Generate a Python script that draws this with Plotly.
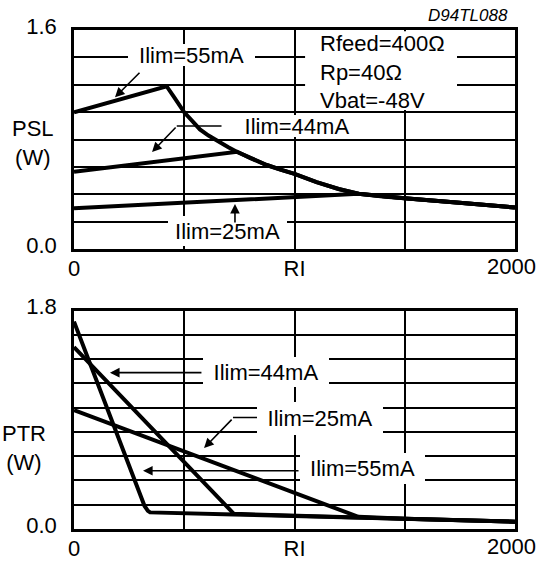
import plotly.graph_objects as go

# ---------------- data ----------------
# Top chart: PSL (W) vs RI
psl_55_rl = [0, 420, 450, 480, 500, 540, 571, 610, 650, 700, 740, 800, 874, 940, 1000, 1100, 1200, 1290, 1400, 1500, 1750, 2000]
psl_55_w = [1.00, 1.19, 1.12, 1.05, 1.00, 0.93, 0.875, 0.83, 0.79, 0.745, 0.71, 0.665, 0.615, 0.58, 0.55, 0.49, 0.44, 0.405, 0.385, 0.372, 0.34, 0.305]
psl_44_rl = [0, 740, 800, 874, 940, 1000, 1100, 1200, 1290, 1400, 1500, 1750, 2000]
psl_44_w = [0.566, 0.712, 0.665, 0.615, 0.58, 0.55, 0.49, 0.44, 0.405, 0.385, 0.372, 0.34, 0.305]
psl_25_rl = [0, 1290, 1400, 1500, 1750, 2000]
psl_25_w = [0.299, 0.405, 0.385, 0.372, 0.34, 0.305]

# Bottom chart: PTR (W) vs RI
ptr_55_rl = [0, 320, 335, 345, 725, 1290, 1500, 2000]
ptr_55_w = [1.71, 0.19, 0.15, 0.137, 0.12, 0.094, 0.084, 0.06]
ptr_44_rl = [0, 725, 1290, 1500, 2000]
ptr_44_w = [1.50, 0.125, 0.094, 0.084, 0.06]
ptr_25_rl = [0, 1290, 1500, 2000]
ptr_25_w = [0.98, 0.10, 0.084, 0.06]

x_tickvals = [0, 1000]
x_ticktext = ["0", "RI"]
x_end_label = "2000"
top_tickvals = [0, 1.6]
top_ticktext = ["0.0", "1.6"]
bot_tickvals = [0, 1.8]
bot_ticktext = ["0.0", "1.8"]

FONT = "Liberation Sans, Arial, sans-serif"
FS = 22
LW = 4

fig = go.Figure()
for xs, ys in [(psl_55_rl, psl_55_w), (psl_44_rl, psl_44_w), (psl_25_rl, psl_25_w)]:
    fig.add_trace(go.Scatter(x=xs, y=ys, mode="lines", line=dict(color="black", width=LW),
                             xaxis="x", yaxis="y", showlegend=False, hoverinfo="skip"))
for xs, ys in [(ptr_55_rl, ptr_55_w), (ptr_44_rl, ptr_44_w), (ptr_25_rl, ptr_25_w)]:
    fig.add_trace(go.Scatter(x=xs, y=ys, mode="lines", line=dict(color="black", width=LW),
                             xaxis="x2", yaxis="y2", showlegend=False, hoverinfo="skip"))

def xax(anchor):
    return dict(anchor=anchor, domain=[0, 1], range=[0, 2000], tickvals=x_tickvals, ticktext=x_ticktext,
                showgrid=True, gridcolor="black", gridwidth=2, automargin=False,
                minor=dict(dtick=500, tick0=0, showgrid=True, gridcolor="black", gridwidth=2),
                showline=True, linecolor="black", linewidth=2.5, mirror=True, ticks="",
                zeroline=False, ticklabelstandoff=-2, tickfont=dict(family=FONT, size=FS, color="black"))

def yax(anchor, dom, rng, tv, tt):
    return dict(anchor=anchor, domain=dom, range=rng, tickvals=tv, ticktext=tt,
                showgrid=True, gridcolor="black", gridwidth=2, automargin=False,
                minor=dict(dtick=0.2, tick0=0, showgrid=True, gridcolor="black", gridwidth=2),
                showline=True, linecolor="black", linewidth=2.5, mirror=True, ticks="",
                zeroline=False, ticklabelstandoff=10, ticklabelshift=-4,
                tickfont=dict(family=FONT, size=FS, color="black"))

fig.update_layout(
    width=540, height=562, margin=dict(l=74, r=25, t=30, b=33, autoexpand=False),
    paper_bgcolor="white", plot_bgcolor="white",
    xaxis=xax("y"), yaxis=yax("x", [0.5605, 1.0], [0, 1.6], top_tickvals, top_ticktext),
    xaxis2=xax("y2"), yaxis2=yax("x2", [0, 0.4375], [0, 1.8], bot_tickvals, bot_ticktext),
)

ann = []
def label(text, x, y, w, h, xr, yr):
    ann.append(dict(text=text, x=x, y=y, xref=xr, yref=yr, showarrow=False, width=w, height=h,
                    bgcolor="white", borderpad=0, borderwidth=0, xanchor="center", yanchor="middle",
                    font=dict(family=FONT, size=FS, color="black")))

def arrow(x, y, ax, ay, xr, yr):
    ann.append(dict(text="", x=x, y=y, xref=xr, yref=yr, showarrow=True, ax=ax, ay=ay,
                    axref="pixel", ayref="pixel", arrowhead=2, arrowsize=1.2, arrowwidth=1.6,
                    arrowcolor="black", standoff=0))

def text(t, x, y, xr, yr, xanchor="center", size=FS, **kw):
    ann.append(dict(text=t, x=x, y=y, xref=xr, yref=yr, showarrow=False, xanchor=xanchor,
                    yanchor="middle", font=dict(family=FONT, size=size, color="black"), **kw))

# top chart labels
label("Ilim=55mA", 533, 1.418, 127, 22, "x", "y")
arrow(186, 1.109, 26, -26, "x", "y")
label("Ilim=44mA", 1011, 0.900, 118, 22, "x", "y")
arrow(354, 0.710, 25, -26, "x", "y")
label("Ilim=25mA", 696, 0.134, 119, 30, "x", "y")
arrow(730, 0.331, 0, 20, "x", "y")
text("Rfeed=400Ω<br>Rp=40Ω<br>Vbat=-48V", 1107, 1.290, "x", "y", xanchor="left", align="left")
text("<i>D94TL088</i>", 0.9887, 1.030, "paper", "paper", xanchor="right", size=17)
text("PSL<br>(W)", -0.093, 0.7745, "paper", "paper")
text(x_end_label, 2000, 0.5257, "x", "paper", xanchor="right", xshift=23)

# bottom chart labels
label("Ilim=44mA", 871, 1.295, 126, 30, "x2", "y2")
arrow(163, 1.289, 93, 0, "x2", "y2")
label("Ilim=25mA", 1116, 0.912, 126, 33, "x2", "y2")
arrow(590, 0.667, 29, -30, "x2", "y2")
label("Ilim=55mA", 1308, 0.5006, 125, 31, "x2", "y2")
arrow(313, 0.480, 157, 0, "x2", "y2")
text("PTR<br>(W)", -0.1134, 0.1623, "paper", "paper")
text(x_end_label, 2000, -0.0341, "x2", "paper", xanchor="right", xshift=23)

fig.update_layout(annotations=ann)

fig.update_layout(shapes=[
    dict(type="rect", xref="x", yref="y", x0=1048, x1=1737, y0=1.016, y1=1.590,
         fillcolor="white", line=dict(width=0), layer="above"),
    dict(type="line", xref="x", yref="y", x0=466, x1=669, y0=0.900, y1=0.900,
         line=dict(color="black", width=1.6), layer="above"),
    dict(type="line", xref="x2", yref="y2", x0=721, x1=830, y0=0.919, y1=0.919,
         line=dict(color="black", width=1.6), layer="above"),
])

fig.write_html("out.html", config={"displayModeBar": False},
               post_script="document.body.style.margin='0';document.body.style.overflow='hidden';")
